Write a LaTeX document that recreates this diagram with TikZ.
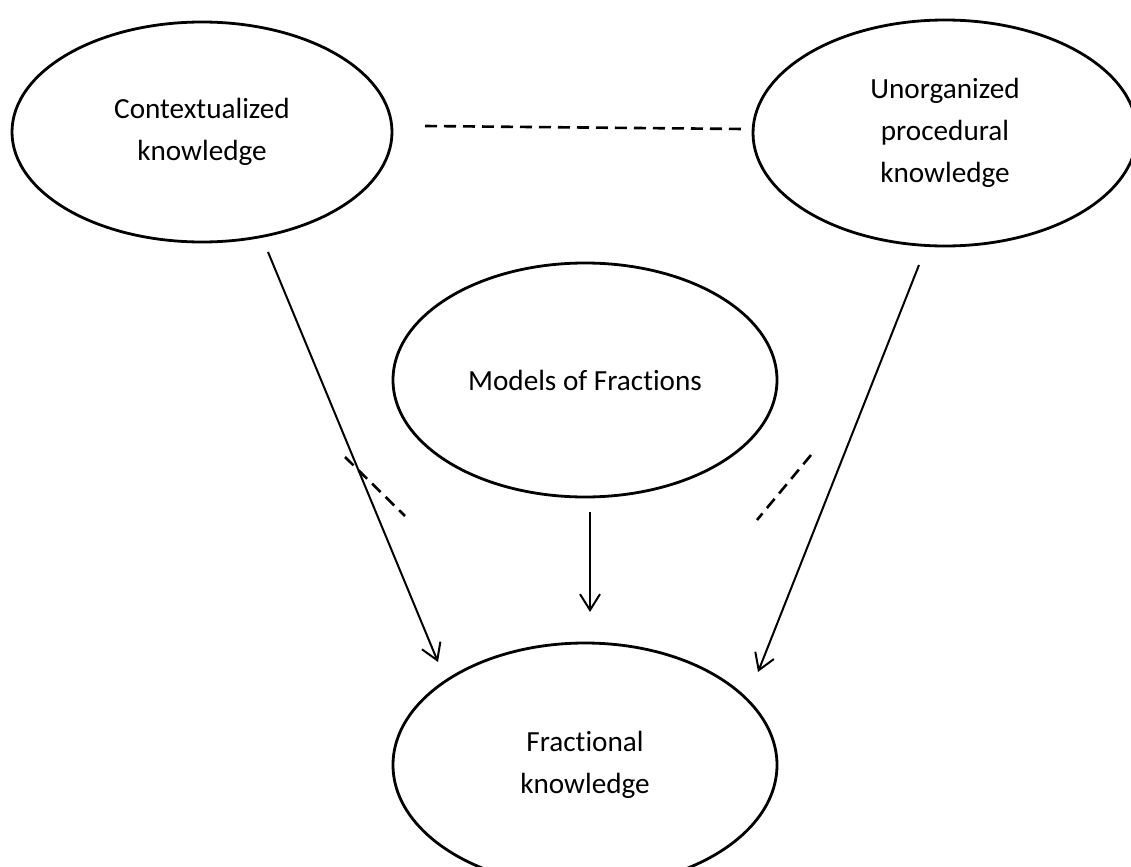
\documentclass[tikz,border=0pt]{standalone}
\usepackage{fontspec}
\setmainfont{Carlito}[Ligatures={NoCommon,NoContextual}]
\usepackage{tikz}
\usetikzlibrary{shapes.geometric,arrows.meta}

\begin{document}
\begin{tikzpicture}[
    x=0.5pt, y=-0.5pt,
    font=\fontsize{14.6}{21}\selectfont,
    idea/.style={ellipse, draw=black, line width=1.4pt, inner sep=0pt, align=center},
    link/.style={line width=1pt, -{Straight Barb[length=8pt,width=10pt,line width=1pt]}},
    tie/.style={line width=1.3pt, dash pattern=on 6pt off 3.5pt}
]
\useasboundingbox (0,0) rectangle (1131,867);

% Knowledge ellipses
\node[idea, minimum width=190pt, minimum height=110pt] (ctx) at (202,132) {Contextualized\\ knowledge};
\node[idea, minimum width=192pt, minimum height=113pt] (unorg) at (945,133) {Unorganized\\ procedural\\ knowledge};
\node[idea, minimum width=192pt, minimum height=117pt] (models) at (585,380) {Models of Fractions};
\node[idea, minimum width=192pt, minimum height=122pt] (frac) at (585,765) {Fractional\\ knowledge};

% Free ends of the connectors
\coordinate (ctxout) at (268,252);
\coordinate (fracinl) at (438,662);
\coordinate (unorgout) at (919,265);
\coordinate (fracinr) at (758,672);
\coordinate (modout) at (590,512);
\coordinate (fracinm) at (590,612);
\coordinate (tiel1) at (345,457);
\coordinate (tiel2) at (405,516);
\coordinate (tier1) at (811,455);
\coordinate (tier2) at (757,520);
\coordinate (tiet1) at (425,126);
\coordinate (tiet2) at (743,129);

% Arrows into fractional knowledge
\draw[link] (ctxout) -- (fracinl);
\draw[link] (unorgout) -- (fracinr);
\draw[link] (modout) -- (fracinm);

% Dashed ties
\draw[tie] (tiet1) -- (tiet2);
\draw[tie] (tiel1) -- (tiel2);
\draw[tie] (tier1) -- (tier2);

\end{tikzpicture}
\end{document}
